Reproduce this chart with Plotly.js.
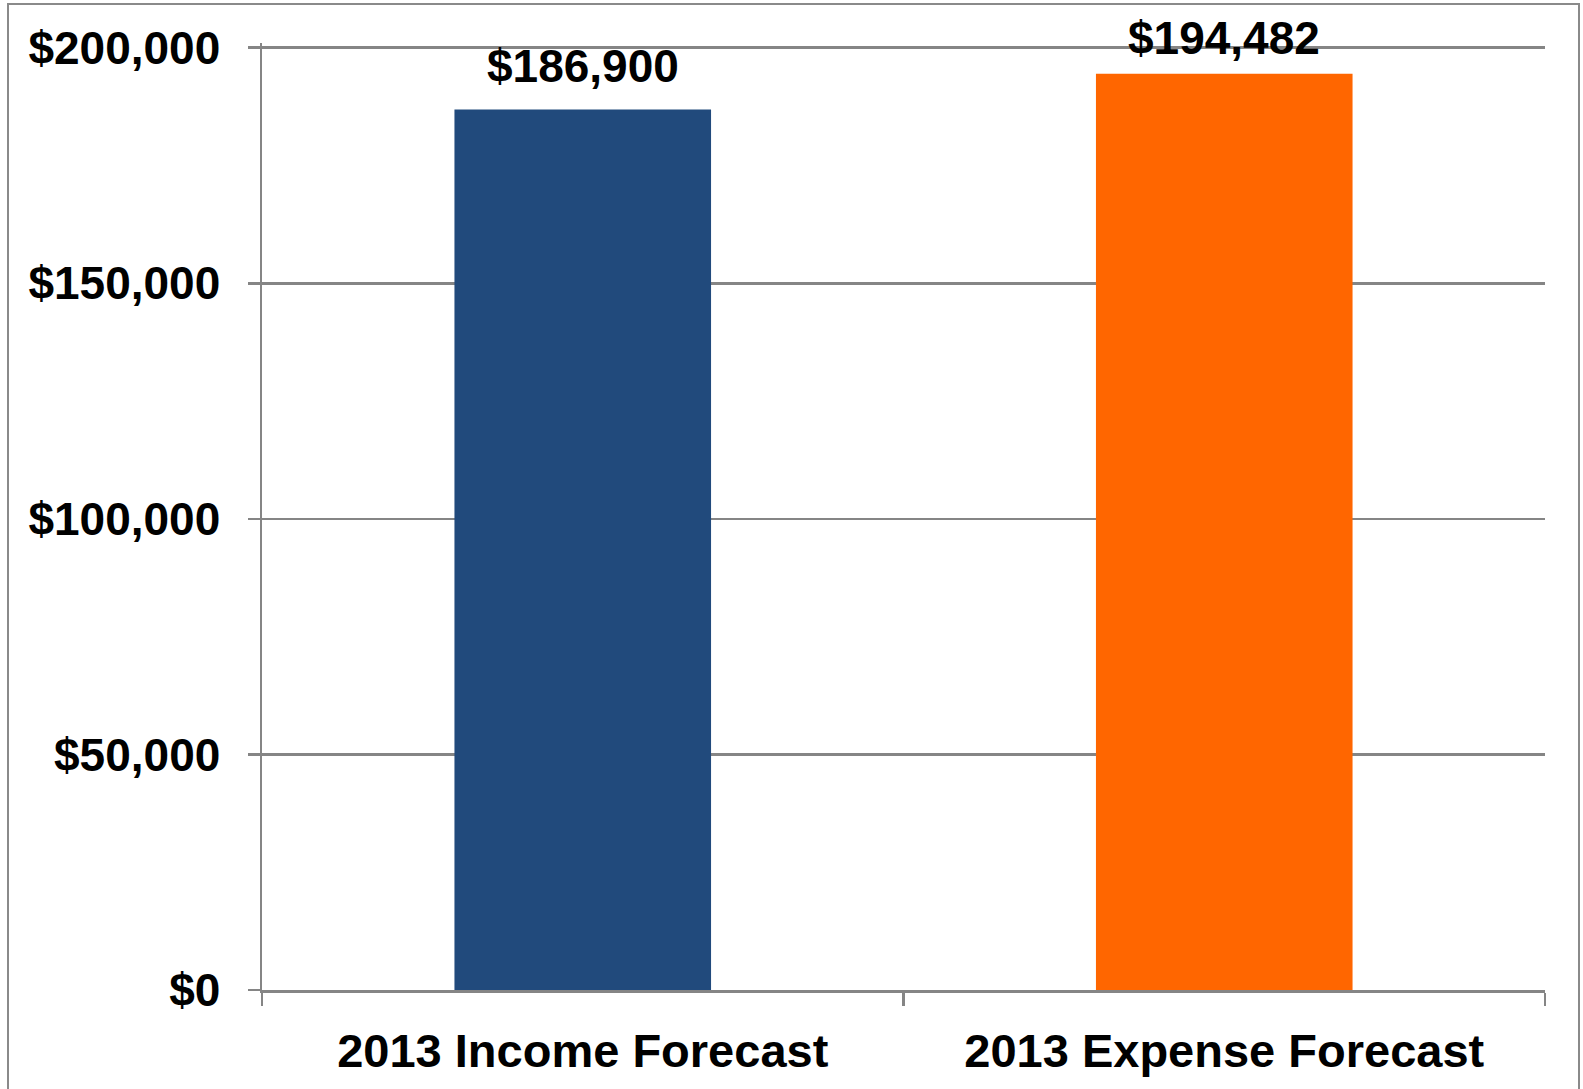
<!DOCTYPE html>
<html>
<head>
<meta charset="utf-8">
<script src="https://cdn.plot.ly/plotly-3.0.1.min.js"></script>
<style>
  html, body { margin: 0; padding: 0; background: #fff; }
  #wrap { position: relative; width: 1583px; height: 1089px; overflow: hidden; }
  #chart { position: absolute; left: 0; top: 0; width: 1583px; height: 1089px; }
  #frame { position: absolute; left: 7px; top: 3px; width: 1573px; height: 1200px;
           border: 2px solid #8a8a8a; box-sizing: border-box; pointer-events: none; }
</style>
</head>
<body>
<div id="wrap">
  <div id="chart"></div>
  <div id="frame"></div>
</div>
<script>
const categories = ["2013 Income Forecast", "2013 Expense Forecast"];
const values = [186900, 194482];
const valueLabels = ["$186,900", "$194,482"];
const barColors = ["#214a7c", "#ff6600"];
const yTickVals = [0, 50000, 100000, 150000, 200000];
const yTickText = ["$0", "$50,000", "$100,000", "$150,000", "$200,000"];

const FONT = '"Liberation Sans", Arial, Helvetica, sans-serif';
const labelShifts = [43, 36];

const trace = {
  type: 'bar',
  x: categories,
  y: values,
  marker: { color: barColors, line: { width: 0 } },
  width: 0.4,
  hoverinfo: 'none'
};

const annotations = categories.map((c, i) => ({
  x: c, y: values[i], xref: 'x', yref: 'y',
  text: valueLabels[i], showarrow: false,
  yanchor: 'middle', yshift: labelShifts[i],
  font: { family: FONT, size: 46, color: '#000', weight: 'bold' }
}));

const layout = {
  width: 1583, height: 1089,
  margin: { l: 262, r: 38, t: 43, b: 99 },
  paper_bgcolor: '#ffffff', plot_bgcolor: '#ffffff',
  showlegend: false,
  font: { family: FONT, size: 46, color: '#000', weight: 'bold' },
  xaxis: {
    type: 'category',
    showgrid: false,
    showline: true, linecolor: '#858585', linewidth: 2.5,
    ticks: 'outside', ticklen: 13, tickwidth: 2.5, tickcolor: '#858585',
    tickson: 'boundaries',
    tickfont: { family: FONT, size: 47, color: '#000', weight: 'bold' },
    ticklabelstandoff: 18,
    zeroline: false, fixedrange: true
  },
  yaxis: {
    range: [0, 201000],
    tickvals: yTickVals, ticktext: yTickText,
    showgrid: true, gridcolor: '#858585', gridwidth: 2.5,
    showline: true, linecolor: '#858585', linewidth: 2.5,
    ticks: 'outside', ticklen: 12, tickwidth: 2.5, tickcolor: '#858585',
    tickfont: { family: FONT, size: 46, color: '#000', weight: 'bold' },
    ticklabelstandoff: 18,
    zeroline: false, fixedrange: true
  },
  annotations: annotations
};

Plotly.newPlot('chart', [trace], layout, { staticPlot: true, displayModeBar: false });
</script>
</body>
</html>
